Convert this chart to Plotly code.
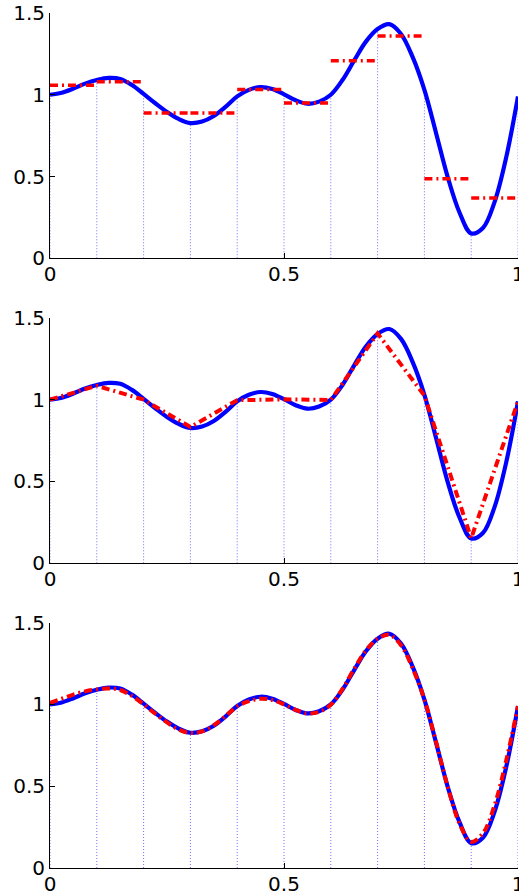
import plotly.graph_objects as go

# ---- data ----
x_curve = [0, 0.025, 0.05, 0.075, 0.1, 0.125, 0.15, 0.175, 0.2, 0.225, 0.25, 0.275, 0.3,
           0.325, 0.35, 0.375, 0.4, 0.425, 0.45, 0.475, 0.5, 0.525, 0.55, 0.575, 0.6,
           0.625, 0.65, 0.675, 0.7, 0.725, 0.75, 0.775, 0.8, 0.825, 0.85, 0.875, 0.9,
           0.925, 0.95, 0.975, 1.0]
f_exact = [1.000, 1.012, 1.038, 1.068, 1.090, 1.103, 1.097, 1.060, 1.005, 0.948, 0.895, 0.852, 0.827,
           0.836, 0.870, 0.926, 0.990, 1.030, 1.047, 1.035, 1.003, 0.966, 0.945, 0.958, 1.000,
           1.090, 1.210, 1.325, 1.402, 1.432, 1.372, 1.230, 1.030, 0.765, 0.495, 0.280, 0.152,
           0.185, 0.345, 0.620, 0.990]

x_nodes = [0, 0.1, 0.2, 0.3, 0.4, 0.5, 0.6, 0.7, 0.8, 0.9, 1.0]
f_nodes = [1.0, 1.085, 1.0, 0.833, 0.997, 1.002, 0.998, 1.405, 1.025, 0.153, 0.99]

# piecewise constant approximation (one value per interval)
f_const = [1.058, 1.080, 0.889, 0.888, 1.032, 0.950, 1.208, 1.360, 0.487, 0.368]

# higher order approximation (panel 3)
f_high = [1.010, 1.035, 1.060, 1.080, 1.092, 1.097, 1.088, 1.052, 1.000, 0.943, 0.890, 0.846, 0.825,
          0.835, 0.873, 0.928, 0.988, 1.020, 1.035, 1.027, 1.000, 0.966, 0.945, 0.955, 0.998,
          1.095, 1.218, 1.330, 1.402, 1.425, 1.362, 1.220, 1.030, 0.770, 0.495, 0.272, 0.160,
          0.212, 0.385, 0.660, 0.990]

xtick_vals = [0, 0.5, 1]
xtick_text = ["0", "0.5", "1"]
ytick_vals = [0, 0.5, 1, 1.5]
ytick_text = ["0", "0.5", "1", "1.5"]

BLUE = "rgb(0,0,255)"
RED = "rgb(255,0,0)"
STEM = "rgb(110,110,255)"

fig = go.Figure()

# stems
stem_x, stem_y = [], []
for xv, fv in zip(x_nodes, f_nodes):
    stem_x += [xv, xv, None]
    stem_y += [0, fv, None]

# constant pieces
cx, cy = [], []
for i, c in enumerate(f_const):
    cx += [x_nodes[i], x_nodes[i + 1], None]
    cy += [c, c, None]

RED_DASH = "8px,4px,2px,4px"

panels = [("x", "y"), ("x2", "y2"), ("x3", "y3")]
for k, (xa, ya) in enumerate(panels):
    fig.add_trace(go.Scatter(x=stem_x, y=stem_y, mode="lines", xaxis=xa, yaxis=ya,
                             line=dict(color=STEM, width=1, dash="1px,2px"), hoverinfo="skip"))
    fig.add_trace(go.Scatter(x=x_curve, y=f_exact, mode="lines", xaxis=xa, yaxis=ya,
                             line=dict(color=BLUE, width=4.2, shape="spline", smoothing=1.0)))
    if k == 0:
        fig.add_trace(go.Scatter(x=cx, y=cy, mode="lines", xaxis=xa, yaxis=ya,
                                 line=dict(color=RED, width=3.5, dash=RED_DASH)))
    elif k == 1:
        fig.add_trace(go.Scatter(x=x_nodes, y=f_nodes, mode="lines", xaxis=xa, yaxis=ya,
                                 line=dict(color=RED, width=4, dash=RED_DASH)))
    else:
        fig.add_trace(go.Scatter(x=x_curve, y=f_high, mode="lines", xaxis=xa, yaxis=ya,
                                 line=dict(color=RED, width=4, dash=RED_DASH,
                                           shape="spline", smoothing=1.0)))

H = 895
top, bottom = 12.5, 26.7
area = H - top - bottom
def dom(t, b):
    return [(H - bottom - b) / area, (H - bottom - t) / area]

domains = [dom(12.5, 258), dom(317.7, 563.3), dom(622.7, 868.3)]
font = dict(family="DejaVu Sans", size=20, color="black")

layout = dict(
    width=519, height=895,
    margin=dict(l=50, r=0.5, t=top, b=bottom, autoexpand=False),
    paper_bgcolor="white", plot_bgcolor="white",
    showlegend=False,
)
for k in range(3):
    sx = "" if k == 0 else str(k + 1)
    layout["xaxis" + sx] = dict(
        domain=[0, 1], range=[0, 1], anchor="y" + sx,
        tickvals=xtick_vals, ticktext=xtick_text, ticks="inside", ticklen=5,
        tickcolor="black", showline=True, linecolor="black", linewidth=1,
        showgrid=False, zeroline=False, tickfont=font, mirror=False,
        ticklabeloverflow="allow", automargin=False, ticklabelstandoff=-2,
    )
    layout["yaxis" + sx] = dict(
        domain=domains[k], range=[0, 1.5], anchor="x" + sx,
        tickvals=ytick_vals, ticktext=ytick_text, ticks="inside", ticklen=5,
        tickcolor="black", showline=True, linecolor="black", linewidth=1,
        showgrid=False, zeroline=False, tickfont=font, mirror=False,
        ticklabeloverflow="allow", automargin=False,
    )
fig.update_layout(**layout)

fig.write_html("out.html")
